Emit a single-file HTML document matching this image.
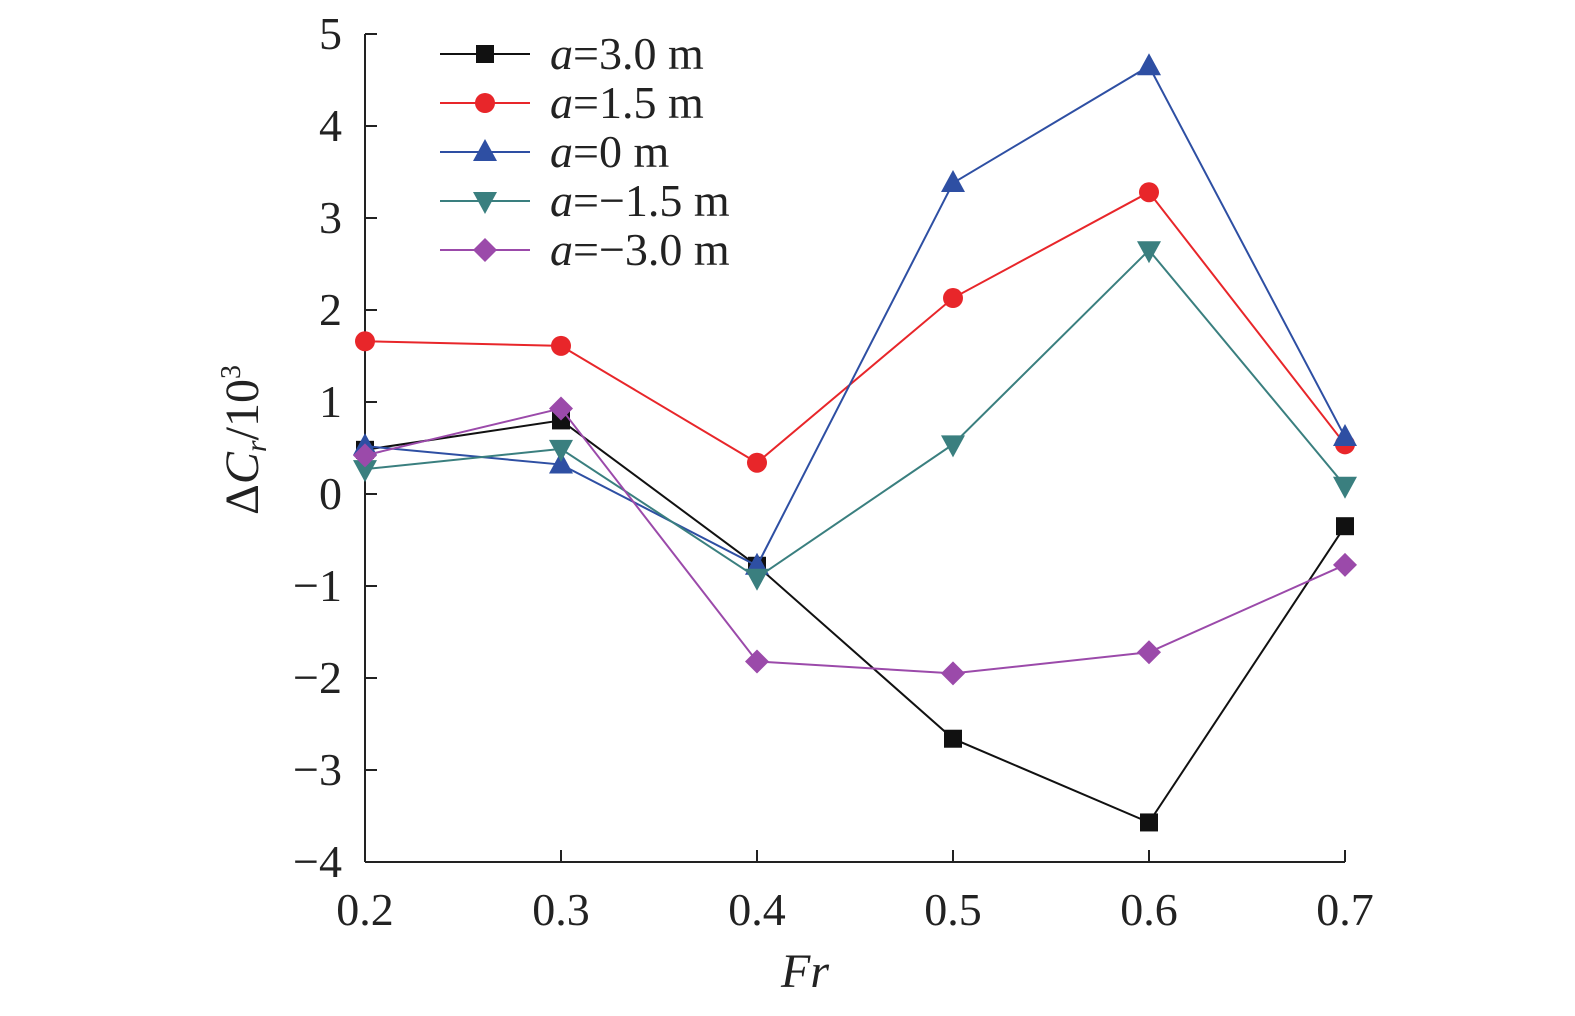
<!DOCTYPE html>
<html><head><meta charset="utf-8"><style>
html,body{margin:0;padding:0;background:#fff;overflow:hidden;width:1575px;height:1016px;}
svg{display:block;}
text{font-family:"Liberation Serif","Times New Roman",Times,serif;}
</style></head><body>
<svg id="chart" width="1575" height="1016" viewBox="0 0 1575 1016"></svg>
<script>
const categories=[0.2,0.3,0.4,0.5,0.6,0.7];
const s30=[0.48,0.80,-0.78,-2.66,-3.57,-0.35];
const s15=[1.66,1.61,0.34,2.13,3.28,0.54];
const s0=[0.52,0.32,-0.78,3.38,4.65,0.62];
const sm15=[0.27,0.49,-0.91,0.54,2.65,0.09];
const sm30=[0.42,0.93,-1.82,-1.95,-1.72,-0.77];
const yTicks=[5,4,3,2,1,0,-1,-2,-3,-4];
const yTickLabels=["5","4","3","2","1","0","\u22121","\u22122","\u22123","\u22124"];
const xTickLabels=["0.2","0.3","0.4","0.5","0.6","0.7"];
const legendLabels=["=3.0 m","=1.5 m","=0 m","=\u22121.5 m","=\u22123.0 m"];

const NS="http://www.w3.org/2000/svg";
const svg=document.getElementById('chart');
const X=v=>365+(v-0.2)/0.5*980;
const Y=v=>494-v*92;
function el(t,a,p){const e=document.createElementNS(NS,t);for(const k in a)e.setAttribute(k,a[k]);(p||svg).appendChild(e);return e;}
let ax=el('line',{x1:365,y1:34,x2:365,y2:862,stroke:'#222','stroke-width':2});


ax=el('line',{x1:365,y1:862,x2:1345,y2:862,stroke:'#222','stroke-width':2});


yTicks.forEach((v,i)=>{
 const t=el('line',{x1:365,y1:Y(v),x2:377,y2:Y(v),stroke:'#222','stroke-width':2});
 
 
 const l=el('text',{x:342,y:Y(v)+15,'text-anchor':'end','font-size':46,fill:'#222'});
 l.textContent=yTickLabels[i];
 
 
});
categories.forEach((c,i)=>{
 const t=el('line',{x1:X(c),y1:862,x2:X(c),y2:850,stroke:'#222','stroke-width':2});
 
 
 const l=el('text',{x:X(c),y:925,'text-anchor':'middle','font-size':46,fill:'#222'});
 l.textContent=xTickLabels[i];
 
 
});
let xt=el('text',{x:805,y:987,'text-anchor':'middle','font-size':48,'font-style':'italic',fill:'#222'});
xt.textContent='Fr';


let yt=el('text',{transform:'translate(258,440) rotate(-90)','text-anchor':'middle','font-size':48,fill:'#222'});
yt.innerHTML='\u0394<tspan font-style="italic">C</tspan><tspan font-style="italic" font-size="30" dy="8">r</tspan><tspan dy="-8">/10</tspan><tspan font-size="28" dy="-18">3</tspan>';



function marker(type,x,y,color,g){
 let m;
 if(type==='sq')m=el('rect',{x:x-9,y:y-9,width:18,height:18,fill:color},g);
 else if(type==='ci')m=el('circle',{cx:x,cy:y,r:10,fill:color},g);
 else if(type==='tu')m=el('polygon',{points:`${x},${y-13} ${x+12},${y+9} ${x-12},${y+9}`,fill:color},g);
 else if(type==='td')m=el('polygon',{points:`${x},${y+13} ${x+12},${y-9} ${x-12},${y-9}`,fill:color},g);
 else m=el('polygon',{points:`${x},${y-12} ${x+12},${y} ${x},${y+12} ${x-12},${y}`,fill:color},g);
 
 
}
const series=[[s30,'#111','sq','series-a-3'],[s15,'#e8262a','ci','series-a-1-5'],[s0,'#2e4fa3','tu','series-a-0'],[sm15,'#3a7f7f','td','series-a-neg-1-5'],[sm30,'#9b4aaa','di','series-a-neg-3']];
series.forEach((s,si)=>{
 const g=el('g',{});
 
 
 const p=el('polyline',{points:s[0].map((v,i)=>X(categories[i])+','+Y(v)).join(' '),fill:'none',stroke:s[1],'stroke-width':2},g);
 
 
 s[0].forEach((v,i)=>marker(s[2],X(categories[i]),Y(v),s[1],g));
 const ly=54+si*49;
 const lg=el('g',{});
 
 
 el('line',{x1:440,y1:ly,x2:530,y2:ly,stroke:s[1],'stroke-width':2},lg);
 marker(s[2],485,ly,s[1],lg);
 const t=el('text',{x:550,y:ly+15,'font-size':46,fill:'#222'},lg);
 t.innerHTML='<tspan font-style="italic">a</tspan>'+legendLabels[si];
});
</script>
</body></html>
